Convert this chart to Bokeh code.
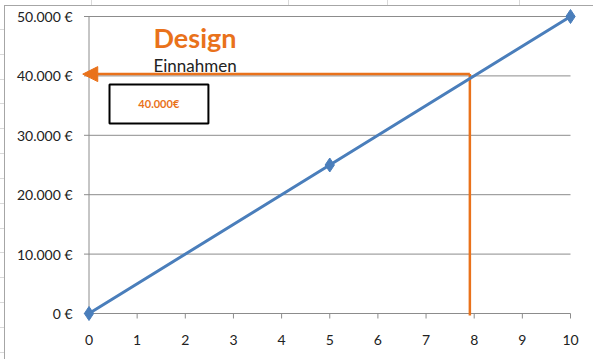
from bokeh.plotting import figure
from bokeh.layouts import column
from bokeh.models import (Range1d, FixedTicker, CustomJSTickFormatter, Arrow, NormalHead,
                          BoxAnnotation, Label, InlineStyleSheet)
from bokeh.embed import file_html
from bokeh.resources import INLINE

# data
months = [0, 5, 10]
revenue = [0, 25000, 50000]
x_ticks = list(range(0, 11))
y_ticks = [0, 10000, 20000, 30000, 40000, 50000]
y_tick_labels = ["0 €", "10.000 €", "20.000 €", "30.000 €", "40.000 €", "50.000 €"]
target_revenue = 40300
target_x = 7.91
title_text = "Design"
subtitle_text = "Einnahmen"
box_text = "40.000€"

ORANGE = "#E9721B"
BLUE = "#4A7EBB"
GRID = "#8C8C8C"
FONT = "Lato"

# frame geometry (pixels) -> ranges so that 0..10 and 0..50000 land like the reference
FL, FR, FT, FB = 76, 580, 6, 322
X0PX, X10PX, Y0PX, Y50PX = 88.5, 570.0, 313.0, 16.0
xpx = (X10PX - X0PX) / 10.0
ypx = (Y0PX - Y50PX) / 50000.0

# spreadsheet cell lines visible around the chart area
sheet_cols = [91, 288, 387, 519]
sheet_rows = [29, 54, 79, 103, 128, 153, 178, 203, 228, 252, 277, 302, 327, 352]
bg_imgs = ", ".join(["linear-gradient(#D9D9D9,#D9D9D9)"] * (len(sheet_cols) + len(sheet_rows)))
bg_sizes = ", ".join(["1px 5px"] * len(sheet_cols) + ["4px 1px"] * len(sheet_rows))
bg_pos = ", ".join([f"{c}px 0px" for c in sheet_cols] + [f"0px {r}px" for r in sheet_rows])

border_css = InlineStyleSheet(css=f"""
:host {{ position: relative; overflow: hidden; }}
:host::before {{
  content: '';
  position: absolute;
  box-sizing: border-box;
  left: 0; top: 0; right: 0; bottom: 0;
  background-image: {bg_imgs};
  background-size: {bg_sizes};
  background-position: {bg_pos};
  background-repeat: no-repeat;
  pointer-events: none;
  z-index: 10;
}}
:host::after {{
  content: '';
  position: absolute;
  box-sizing: border-box;
  left: 4px; top: 5px; right: 0; bottom: 0;
  border-left: 1px solid #A6A6A6;
  border-top: 1px solid #A6A6A6;
  pointer-events: none;
  z-index: 11;
}}
""")

p = figure(width=593, height=359, output_backend="svg", toolbar_location=None,
           x_range=Range1d(-(X0PX - FL) / xpx, 10 + (FR - X10PX) / xpx),
           y_range=Range1d(-(FB - Y0PX) / ypx, 50000 + (Y50PX - FT) / ypx),
           min_border_left=FL, min_border_right=593 - FR, min_border_top=FT, min_border_bottom=359 - FB)
p.outline_line_color = None
p.background_fill_color = "white"
p.border_fill_color = "white"
p.grid.visible = False

p.xaxis.ticker = FixedTicker(ticks=x_ticks)
p.yaxis.ticker = FixedTicker(ticks=y_ticks)
p.yaxis.formatter = CustomJSTickFormatter(args=dict(vals=y_ticks, labs=y_tick_labels), code="""
const i = vals.indexOf(tick); return i >= 0 ? labs[i] : '';
""")
for ax in (p.xaxis, p.yaxis):
    ax.axis_line_color = None
    ax.major_tick_line_color = None
    ax.minor_tick_line_color = None
    ax.major_label_text_font = FONT
    ax.major_label_text_font_size = "14px"
    ax.major_label_text_color = "#222222"
p.xaxis.major_label_standoff = 6
p.yaxis.major_label_standoff = -2

# gridlines, axis lines and tick marks
tick_len_x = 5 / xpx
tick_len_y = 5 / ypx
p.segment(x0=[-tick_len_x] * len(y_ticks), y0=y_ticks, x1=[10] * len(y_ticks), y1=y_ticks,
          line_color=GRID, line_width=1)
p.segment(x0=[0], y0=[0], x1=[0], y1=[50000], line_color=GRID, line_width=1)
p.segment(x0=x_ticks, y0=[0] * len(x_ticks), x1=x_ticks, y1=[-tick_len_y] * len(x_ticks),
          line_color=GRID, line_width=1)

# orange guide lines
p.segment(x0=[target_x], y0=[-tick_len_y * 0.4], x1=[target_x], y1=[target_revenue],
          line_color=ORANGE, line_width=2.5)
p.add_layout(Arrow(x_start=target_x, y_start=target_revenue, x_end=-0.13, y_end=target_revenue,
                   line_color=ORANGE, line_width=2.5,
                   end=NormalHead(size=15, fill_color=ORANGE, line_color=ORANGE)))

# data line
p.line(months, revenue, line_color=BLUE, line_width=3)
p.scatter(months, revenue, marker="diamond", size=14, fill_color=BLUE, line_color=BLUE)

# labels (screen units relative to frame: x from left, y up from bottom)
p.add_layout(Label(x=153 - FL, y=FB - 37, x_units="screen", y_units="screen", text=title_text,
                   text_baseline="alphabetic",
                   text_font=FONT, text_font_style="bold", text_font_size="27px", text_color=ORANGE))
p.add_layout(Label(x=153 - FL, y=FB - 65, x_units="screen", y_units="screen", text=subtitle_text,
                   text_baseline="alphabetic",
                   text_font=FONT, text_font_size="17px", text_color="#222222"))

p.add_layout(BoxAnnotation(left=0.426, right=2.48, bottom=31990, top=38550,
                           fill_color="white", fill_alpha=1, line_color="black", line_alpha=1, line_width=2))
p.add_layout(Label(x=1.45, y=35270, text=box_text, text_align="center", text_baseline="middle",
                   text_font=FONT, text_font_style="bold", text_font_size="11px", text_color=ORANGE))

layout = column(p, width=593, height=359, stylesheets=[border_css])
open("out.html", "w").write(file_html(layout, INLINE))
